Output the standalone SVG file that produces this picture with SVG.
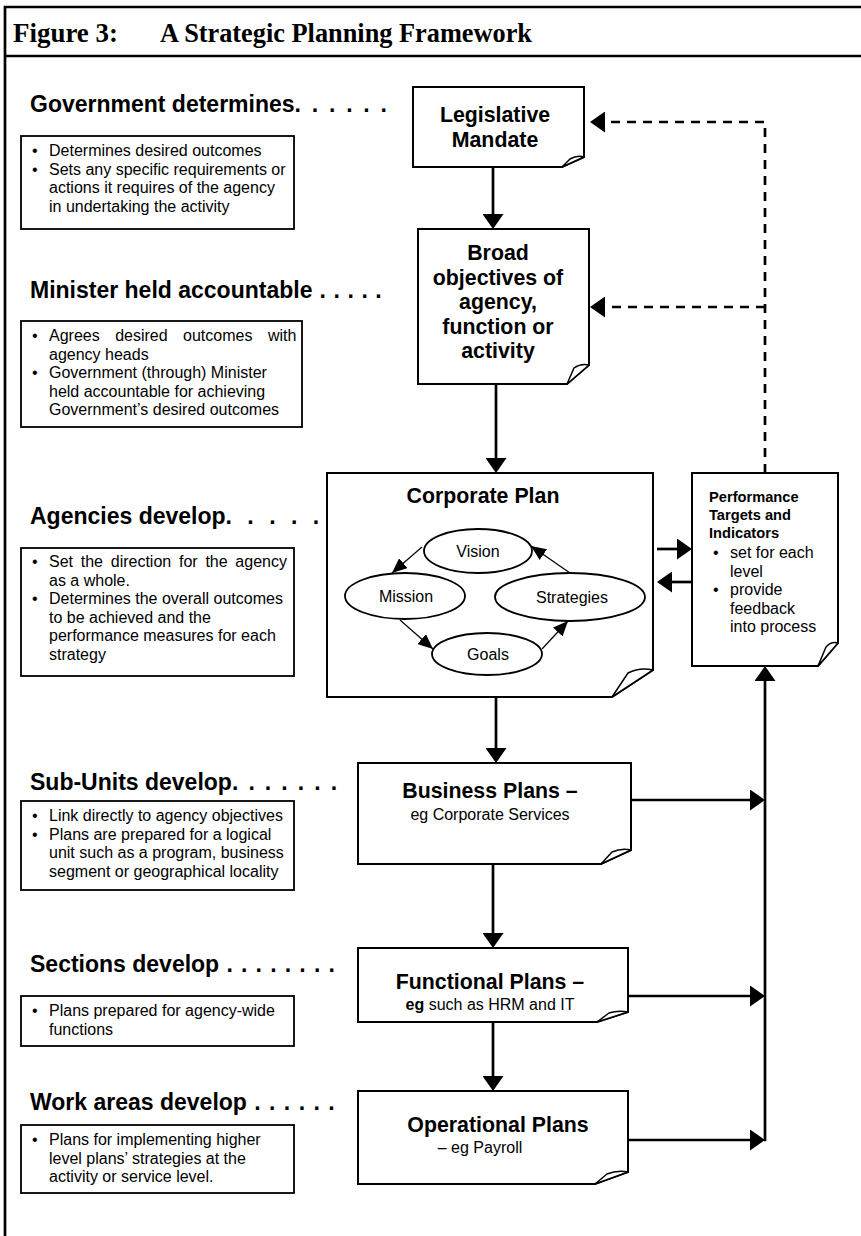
<svg xmlns="http://www.w3.org/2000/svg" width="861" height="1236" viewBox="0 0 861 1236">
<style>
.ti{font-family:"Liberation Serif","Times New Roman",serif;font-weight:bold;font-size:28px;fill:#000}
.h{font-family:"Liberation Sans",Arial,sans-serif;font-weight:bold;font-size:23px;fill:#000}
.b{font-family:"Liberation Sans",Arial,sans-serif;font-size:16px;fill:#000}
.t{font-family:"Liberation Sans",Arial,sans-serif;font-weight:bold;font-size:21.33px;fill:#000;text-anchor:middle}
.s{font-family:"Liberation Sans",Arial,sans-serif;font-size:16px;fill:#000;text-anchor:middle}
.ph{font-family:"Liberation Sans",Arial,sans-serif;font-weight:bold;font-size:14.67px;fill:#000}
.box{fill:#fff;stroke:#000;stroke-width:1.8}
.doc{fill:#fff;stroke:#000;stroke-width:2}
.fold{fill:#fff;stroke:#000;stroke-width:1.5;stroke-linejoin:round}
.ell{fill:#fff;stroke:#000;stroke-width:1.8}
.frame{stroke:#000;stroke-width:2.7;fill:none}
.ar{stroke:#000;stroke-width:2.7;fill:none;marker-end:url(#ah)}
.da{stroke:#000;stroke-width:2.7;fill:none;stroke-dasharray:9 7;marker-end:url(#ah)}
.th{stroke:#000;stroke-width:1.2;fill:none;marker-end:url(#sa)}
</style>
<defs>
<marker id="ah" markerUnits="userSpaceOnUse" markerWidth="15" markerHeight="21" viewBox="0 0 15 21" refX="1" refY="10.5" orient="auto"><path d="M0,0 L15,10.5 L0,21 Z" fill="#000"/></marker>
<marker id="sa" markerUnits="userSpaceOnUse" markerWidth="15" markerHeight="13" viewBox="0 0 15 13" refX="15" refY="6.5" orient="auto"><path d="M0,0 L15,6.5 L0,13 Z" fill="#000"/></marker>
</defs>
<rect width="861" height="1236" fill="#fff"/>
<g id="frame">
<path class="frame" d="M5,1236 V7 H861 M5,56 H861"/>
<text class="ti" x="13" y="42" textLength="105" lengthAdjust="spacingAndGlyphs">Figure 3:</text>
<text class="ti" x="160" y="42" textLength="372" lengthAdjust="spacingAndGlyphs">A Strategic Planning Framework</text>
</g>
<g id="gov">
<text class="h" x="30" y="112">Government determines<tspan letter-spacing="2.2">. . . . . .</tspan></text>
<rect class="box" x="21" y="136" width="273" height="93"/>
<text class="b" x="32" y="156">•</text><text class="b" x="49" y="156">Determines desired outcomes</text>
<text class="b" x="32" y="174.5">•</text><text class="b" x="49" y="174.5">Sets any specific requirements or</text>
<text class="b" x="49" y="193">actions it requires of the agency</text>
<text class="b" x="49" y="211.5">in undertaking the activity</text>
</g>
<g id="minister">
<text class="h" x="30" y="298">Minister held accountable<tspan letter-spacing="0.6"> . . . . .</tspan></text>
<rect class="box" x="21" y="321" width="281" height="106"/>
<text class="b" x="32" y="341">•</text><text class="b" x="49" y="341" word-spacing="11">Agrees desired outcomes with</text>
<text class="b" x="49" y="359.5">agency heads</text>
<text class="b" x="32" y="378">•</text><text class="b" x="49" y="378">Government (through) Minister</text>
<text class="b" x="49" y="396.5">held accountable for achieving</text>
<text class="b" x="49" y="415">Government’s desired outcomes</text>
</g>
<g id="agencies">
<text class="h" x="30" y="524">Agencies develop<tspan letter-spacing="4.5">. . . . . .</tspan></text>
<rect class="box" x="21" y="548" width="273" height="128"/>
<text class="b" x="32" y="567">•</text><text class="b" x="49" y="567" word-spacing="3.3">Set the direction for the agency</text>
<text class="b" x="49" y="585.5">as a whole.</text>
<text class="b" x="32" y="604">•</text><text class="b" x="49" y="604">Determines the overall outcomes</text>
<text class="b" x="49" y="622.5">to be achieved and the</text>
<text class="b" x="49" y="641">performance measures for each</text>
<text class="b" x="49" y="659.5">strategy</text>
</g>
<g id="subunits">
<text class="h" x="30" y="790">Sub-Units develop<tspan letter-spacing="1.85">. . . . . . .</tspan></text>
<rect class="box" x="21" y="801" width="273" height="89"/>
<text class="b" x="32" y="821">•</text><text class="b" x="49" y="821">Link directly to agency objectives</text>
<text class="b" x="32" y="839.5">•</text><text class="b" x="49" y="839.5">Plans are prepared for a logical</text>
<text class="b" x="49" y="858">unit such as a program, business</text>
<text class="b" x="49" y="876.5">segment or geographical locality</text>
</g>
<g id="sections">
<text class="h" x="30" y="972">Sections develop<tspan letter-spacing="0.9"> . . . . . . . .</tspan></text>
<rect class="box" x="21" y="996" width="273" height="50"/>
<text class="b" x="32" y="1016">•</text><text class="b" x="49" y="1016">Plans prepared for agency-wide</text>
<text class="b" x="49" y="1034.5">functions</text>
</g>
<g id="workareas">
<text class="h" x="30" y="1110">Work areas develop<tspan letter-spacing="1"> . . . . . .</tspan></text>
<rect class="box" x="21" y="1125" width="273" height="68"/>
<text class="b" x="32" y="1145">•</text><text class="b" x="49" y="1145">Plans for implementing higher</text>
<text class="b" x="49" y="1163.5">level plans’ strategies at the</text>
<text class="b" x="49" y="1182">activity or service level.</text>
</g>
<g id="legislative">
<path class="doc" d="M413,87 H584 V157 L562,167 H413 Z"/>
<path class="fold" d="M584,157 Q577,155 570,159 L562,167 Z"/>
<text class="t" x="495" y="122">Legislative</text>
<text class="t" x="495" y="147">Mandate</text>
</g>
<g id="broad">
<path class="doc" d="M418,229 H589 V365 L567,384 H418 Z"/>
<path class="fold" d="M589,365 Q581,363 574,368 L567,384 Z"/>
<text class="t" x="498" y="260">Broad</text>
<text class="t" x="498" y="284.5">objectives of</text>
<text class="t" x="498" y="309">agency,</text>
<text class="t" x="498" y="333.5">function or</text>
<text class="t" x="498" y="358">activity</text>
</g>
<g id="corporate">
<path class="doc" d="M327,473 H653 V670 L612,697 H327 Z"/>
<path class="fold" d="M653,670 Q640,667 628,673 L612,697 Z"/>
<text class="t" x="483" y="503">Corporate Plan</text>
</g>
<g id="vision"><ellipse class="ell" cx="478" cy="551" rx="54" ry="22"/><text class="s" x="478" y="557">Vision</text></g>
<g id="mission"><ellipse class="ell" cx="405" cy="596" rx="60" ry="23"/><text class="s" x="406" y="602">Mission</text></g>
<g id="strategies"><ellipse class="ell" cx="570" cy="597" rx="75" ry="24"/><text class="s" x="572" y="603">Strategies</text></g>
<g id="goals"><ellipse class="ell" cx="487" cy="654" rx="55" ry="21"/><text class="s" x="488" y="660">Goals</text></g>
<g id="performance">
<path class="doc" d="M692,473 H838 V643 L818,666 H692 Z"/>
<path class="fold" d="M838,643 Q831,641 826,647 L818,666 Z"/>
<text class="ph" x="709" y="502">Performance</text>
<text class="ph" x="709" y="520">Targets and</text>
<text class="ph" x="709" y="537.5">Indicators</text>
<text class="b" x="713" y="558">•</text><text class="b" x="730" y="558">set for each</text>
<text class="b" x="730" y="576.5">level</text>
<text class="b" x="713" y="595">•</text><text class="b" x="730" y="595">provide</text>
<text class="b" x="730" y="613.5">feedback</text>
<text class="b" x="730" y="632">into process</text>
</g>
<g id="business">
<path class="doc" d="M358,763 H631 V850 L601,864 H358 Z"/>
<path class="fold" d="M631,850 Q621,848 612,852 L601,864 Z"/>
<text class="t" x="490" y="798">Business Plans –</text>
<text class="s" x="490" y="820">eg Corporate Services</text>
</g>
<g id="functional">
<path class="doc" d="M358,948 H628 V1012 L597,1022 H358 Z"/>
<path class="fold" d="M628,1012 Q618,1010 609,1013 L597,1022 Z"/>
<text class="t" x="490" y="989">Functional Plans –</text>
<text class="s" x="490" y="1010"><tspan font-weight="bold">eg</tspan> such as HRM and IT</text>
</g>
<g id="operational">
<path class="doc" d="M358,1091 H628 V1172 L595,1184 H358 Z"/>
<path class="fold" d="M628,1172 Q617,1170 607,1174 L595,1184 Z"/>
<text class="t" x="498" y="1132">Operational Plans</text>
<text class="s" x="480" y="1153">– eg Payroll</text>
</g>
<g id="connectors">
<path class="ar" d="M493,167 V215"/>
<path class="ar" d="M496,384 V459"/>
<path class="ar" d="M496,697 V749"/>
<path class="ar" d="M493,864 V934"/>
<path class="ar" d="M493,1022 V1077"/>
<path class="ar" d="M657,549 H678"/>
<path class="ar" d="M692,582 H671"/>
<path class="ar" d="M631,800 H751"/>
<path class="ar" d="M628,996 H751"/>
<path class="ar" d="M628,1140 H751"/>
<path class="ar" d="M765,1141.3 V680"/>
<path class="da" d="M765,473 V122 H604"/>
<path class="da" d="M765,307 H604"/>
<path class="th" d="M422,547 L392,573"/>
<path class="th" d="M400,620 L433,649"/>
<path class="th" d="M542,649 L568,621"/>
<path class="th" d="M570,573 L531,546"/>
</g>
</svg>
